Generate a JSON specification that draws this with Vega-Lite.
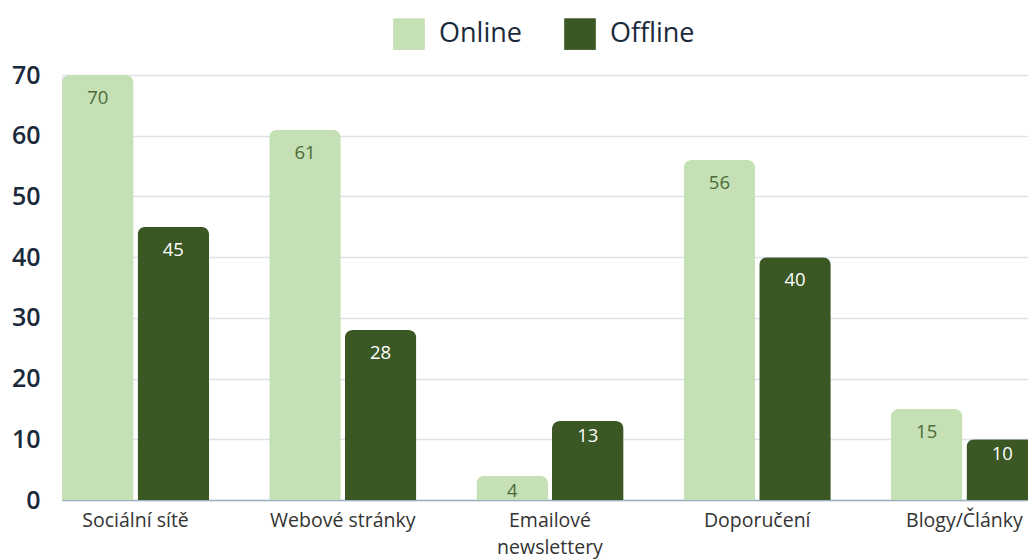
{
  "$schema": "https://vega.github.io/schema/vega-lite/v6.json",
  "autosize": "none",
  "width": 966,
  "height": 425,
  "padding": {"left": 62, "top": 75, "right": 0, "bottom": 59},
  "background": "white",
  "data": {
    "values": [
      {"Kanal": "Sociální sítě", "Type": "Online", "Value": 70},
      {"Kanal": "Sociální sítě", "Type": "Offline", "Value": 45},
      {"Kanal": "Webové stránky", "Type": "Online", "Value": 61},
      {"Kanal": "Webové stránky", "Type": "Offline", "Value": 28},
      {"Kanal": "Emailové newslettery", "Type": "Online", "Value": 4},
      {"Kanal": "Emailové newslettery", "Type": "Offline", "Value": 13},
      {"Kanal": "Doporučení", "Type": "Online", "Value": 56},
      {"Kanal": "Doporučení", "Type": "Offline", "Value": 40},
      {"Kanal": "Blogy/Články", "Type": "Online", "Value": 15},
      {"Kanal": "Blogy/Články", "Type": "Offline", "Value": 10}
    ]
  },
  "encoding": {
    "x": {
      "field": "Kanal",
      "type": "nominal",
      "sort": null,
      "scale": {"range": [0, 976], "paddingInner": 0.29, "paddingOuter": 0},
      "axis": {
        "title": null,
        "labelAngle": 0,
        "labelFont": "Open Sans",
        "labelFontSize": 19.5,
        "labelColor": "#333333",
        "labelPadding": 11,
        "labelLineHeight": 27,
        "labelExpr": "datum.value == 'Emailové newslettery' ? ['Emailové', 'newslettery'] : datum.value",
        "ticks": false,
        "domainColor": "#9fb0c0",
        "domainWidth": 1.5,
        "grid": false
      }
    },
    "xOffset": {
      "field": "Type",
      "type": "nominal",
      "sort": ["Online", "Offline"],
      "scale": {"paddingInner": 0.053, "paddingOuter": 0}
    },
    "y": {
      "field": "Value",
      "type": "quantitative",
      "scale": {"domain": [0, 70], "nice": false},
      "axis": {
        "title": null,
        "values": [0, 10, 20, 30, 40, 50, 60, 70],
        "labelFont": "Open Sans",
        "labelFontWeight": 600,
        "labelFontSize": 25,
        "labelColor": "#1b2a3a",
        "labelPadding": 22,
        "ticks": false,
        "domain": false,
        "gridColor": "#dde3ea",
        "gridWidth": 1.5
      }
    }
  },
  "layer": [
    {
      "mark": {"type": "bar", "cornerRadiusTopLeft": 8, "cornerRadiusTopRight": 8},
      "encoding": {
        "color": {
          "field": "Type",
          "type": "nominal",
          "sort": ["Online", "Offline"],
          "scale": {"domain": ["Online", "Offline"], "range": ["#c5e0b4", "#3a5724"]},
          "legend": {
            "title": null,
            "orient": "none",
            "direction": "horizontal",
            "legendX": 331,
            "legendY": -57,
            "symbolType": "square",
            "symbolSize": 1000,
            "symbolStrokeWidth": 0,
            "symbolOpacity": 1,
            "labelFont": "Open Sans",
            "labelFontSize": 27,
            "labelFontWeight": 500,
            "labelColor": "#1b2a3a",
            "labelOffset": 14,
            "columnPadding": 42
          }
        }
      }
    },
    {
      "transform": [{"filter": "datum.Value >= 14"}],
      "mark": {"type": "text", "baseline": "middle", "dy": 23, "font": "Open Sans", "fontSize": 18.5},
      "encoding": {
        "text": {"field": "Value", "type": "quantitative"},
        "color": {
          "condition": {"test": "datum.Type == 'Online'", "value": "#4b6b3a"},
          "value": "#ffffff"
        }
      }
    },
    {
      "transform": [{"filter": "datum.Value < 14"}],
      "mark": {"type": "text", "baseline": "middle", "dy": 15, "font": "Open Sans", "fontSize": 18.5},
      "encoding": {
        "text": {"field": "Value", "type": "quantitative"},
        "color": {
          "condition": {"test": "datum.Type == 'Online'", "value": "#4b6b3a"},
          "value": "#ffffff"
        }
      }
    }
  ]
}
